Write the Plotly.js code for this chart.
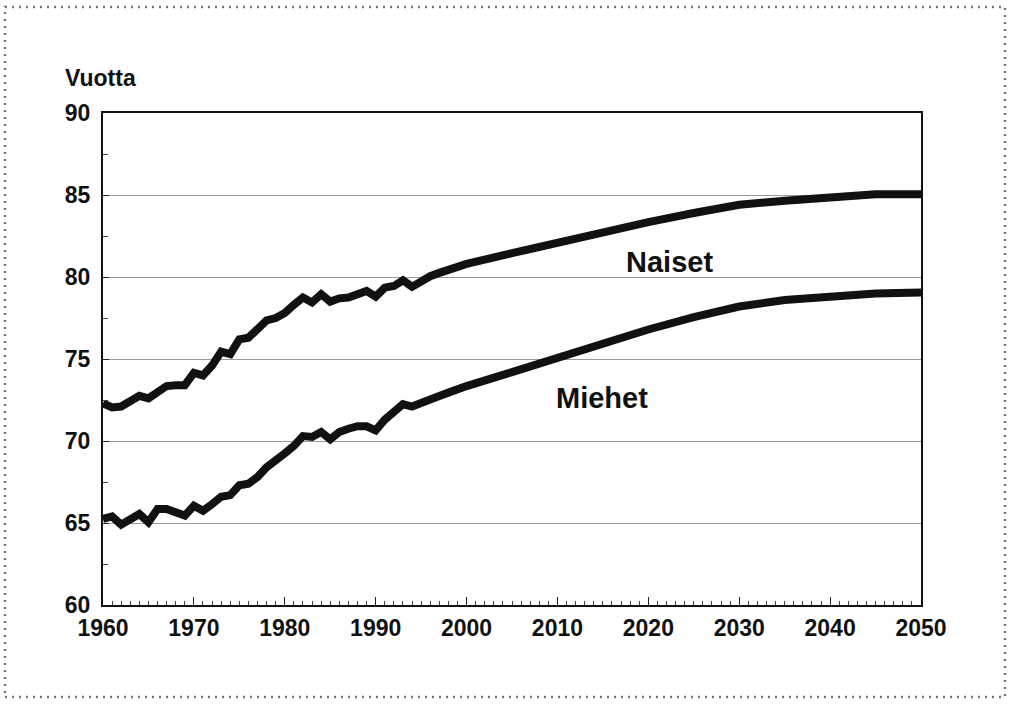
<!DOCTYPE html>
<html>
<head>
<meta charset="utf-8">
<script src="https://cdn.plot.ly/plotly-3.0.1.min.js"></script>
<style>
  html, body { margin: 0; padding: 0; background: #fff; }
  #chart { width: 1016px; height: 705px; }
</style>
</head>
<body>
<div id="chart"></div>
<script>
// Years
const years = [
  1960,1961,1962,1963,1964,1965,1966,1967,1968,1969,
  1970,1971,1972,1973,1974,1975,1976,1977,1978,1979,
  1980,1981,1982,1983,1984,1985,1986,1987,1988,1989,
  1990,1991,1992,1993,1994,1995,1996,1997,1998,1999,
  2000,2005,2010,2015,2020,2025,2030,2035,2040,2045,2050
];
// Naiset (women) life expectancy, years
const naiset = [
  72.3,72.05,72.1,72.45,72.75,72.6,73.0,73.35,73.4,73.4,
  74.15,74.0,74.6,75.45,75.3,76.2,76.3,76.8,77.35,77.5,
  77.8,78.3,78.75,78.45,78.95,78.5,78.7,78.75,78.95,79.15,
  78.8,79.35,79.45,79.8,79.4,79.8,80.05,80.25,80.45,80.55,
  80.8,81.45,82.1,82.8,83.35,83.9,84.4,84.65,84.85,85.05,85.05
];
// Miehet (men) life expectancy, years
const miehet = [
  65.25,65.4,64.9,65.3,65.55,65.05,65.85,65.85,65.7,65.45,
  66.05,65.75,66.15,66.6,66.7,67.3,67.4,67.8,68.4,68.9,
  69.25,69.7,70.3,70.25,70.55,70.1,70.55,70.75,70.9,70.9,
  70.65,71.3,71.85,72.25,72.1,72.35,72.55,72.75,72.95,73.15,
  73.35,74.2,75.1,76.0,76.8,77.55,78.2,78.6,78.85,79.0,79.05
];
const xTicks = [1960,1970,1980,1990,2000,2010,2020,2030,2040,2050];
const yTicks = [60,65,70,75,80,85,90];

const FONT = 'Liberation Sans, Arial, sans-serif';

const traces = [
  { x: years, y: naiset, type: 'scatter', mode: 'lines', name: 'Naiset',
    line: { color: '#111', width: 8, shape: 'linear' }, hoverinfo: 'x+y' },
  { x: years, y: miehet, type: 'scatter', mode: 'lines', name: 'Miehet',
    line: { color: '#111', width: 8, shape: 'linear' }, hoverinfo: 'x+y' }
];

const layout = {
  width: 1016, height: 705,
  margin: { l: 103, r: 95, t: 113, b: 100 },
  paper_bgcolor: '#fff', plot_bgcolor: '#fff',
  showlegend: false,
  font: { family: FONT, color: '#111' },
  xaxis: {
    range: [1960, 2050], tickmode: 'array', tickvals: xTicks,
    ticktext: xTicks.map(String),
    ticks: 'inside', ticklen: 8, tickcolor: '#222', tickwidth: 1,
    minor: { dtick: 1, ticks: 'inside', ticklen: 4, tickcolor: '#444', tickwidth: 1, showgrid: false },
    showgrid: false, zeroline: false,
    showline: true, linecolor: '#111', linewidth: 2, mirror: true,
    tickfont: { family: FONT, size: 23, weight: 'bold', color: '#111' },
    ticklabelstandoff: 1
  },
  yaxis: {
    range: [60, 90], tickmode: 'array', tickvals: yTicks,
    ticktext: yTicks.map(String),
    ticks: 'inside', ticklen: 6, tickcolor: '#222', tickwidth: 1,
    minor: { dtick: 2.5, ticks: 'inside', ticklen: 5, tickcolor: '#444', tickwidth: 1, showgrid: false },
    showgrid: true, gridcolor: '#9a9a9a', gridwidth: 1,
    zeroline: false,
    showline: true, linecolor: '#111', linewidth: 2, mirror: true,
    tickfont: { family: FONT, size: 23, weight: 'bold', color: '#111' },
    ticklabelstandoff: 6
  },
  annotations: [
    { text: 'Vuotta', xref: 'paper', yref: 'paper', x: -0.0489, y: 1.072,
      xanchor: 'left', yanchor: 'middle', showarrow: false,
      font: { family: FONT, size: 23, weight: 'bold', color: '#111' } },
    { text: 'Naiset', xref: 'x', yref: 'y', x: 2022.3, y: 80.93,
      xanchor: 'center', yanchor: 'middle', showarrow: false,
      font: { family: FONT, size: 29, weight: 'bold', color: '#111' } },
    { text: 'Miehet', xref: 'x', yref: 'y', x: 2014.85, y: 72.62,
      xanchor: 'center', yanchor: 'middle', showarrow: false,
      font: { family: FONT, size: 29, weight: 'bold', color: '#111' } }
  ],
  shapes: [
    { type: 'rect', xref: 'paper', yref: 'paper',
      x0: -0.1198, x1: 1.1027, y0: -0.187, y1: 1.2154,
      line: { color: '#777', width: 2.5, dash: '2px,5px' }, fillcolor: 'rgba(0,0,0,0)', layer: 'below' }
  ]
};

Plotly.newPlot('chart', traces, layout, { displayModeBar: false, staticPlot: true });
</script>
</body>
</html>
